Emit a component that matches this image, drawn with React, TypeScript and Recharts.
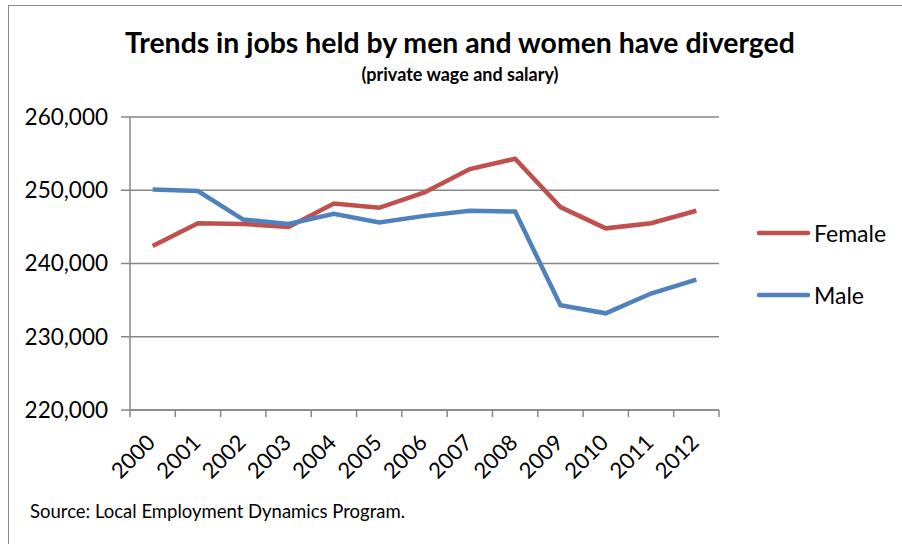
import { LineChart, Line, XAxis, YAxis, CartesianGrid } from "recharts";

const years = ["2000", "2001", "2002", "2003", "2004", "2005", "2006", "2007", "2008", "2009", "2010", "2011", "2012"];
const female = [242400, 245500, 245400, 245000, 248200, 247600, 249700, 252900, 254300, 247700, 244800, 245500, 247200];
const male = [250100, 249900, 246000, 245400, 246800, 245600, 246500, 247200, 247100, 234300, 233200, 235900, 237800];
const yTicks = [220000, 230000, 240000, 250000, 260000];

const series = [
  { key: "female", name: "Female", color: "#C0504D" },
  { key: "male", name: "Male", color: "#4F81BD" },
];

const data = years.map((year, i) => ({ year, female: female[i], male: male[i] }));

const FONT = "Lato, 'Open Sans', sans-serif";
const GRID = "#878787";

// Excel-style category ticks: tick marks sit between categories, labels at 45°
function YearTick(props: any) {
  const { x, y, payload, index, visibleTicksCount, width } = props;
  const half = payload?.offset > 0 ? payload.offset : width / visibleTicksCount / 2;
  const ay = y - 9;
  return (
    <g>
      <line x1={x - half} y1={ay} x2={x - half} y2={ay + 7} stroke={GRID} strokeWidth={1.5} />
      {index === visibleTicksCount - 1 && (
        <line x1={x + half} y1={ay} x2={x + half} y2={ay + 7} stroke={GRID} strokeWidth={1.5} />
      )}
      <text x={x + 4} y={y + 25} transform={`rotate(-45, ${x + 4}, ${y + 25})`} textAnchor="end" fontSize={22} fontFamily={FONT} fill="#000">
        {payload.value}
      </text>
    </g>
  );
}

export default function App() {
  return (
    <div style={{ position: "absolute", left: 0, top: 0, width: 902, height: 544, background: "#fff", overflow: "hidden" }}>
      <div style={{ position: "absolute", left: 8, top: 5, width: 910, height: 560, border: "1.5px solid #8a8a8a" }} />
      <div style={{ position: "absolute", left: 0, top: 25, width: 920, textAlign: "center", fontFamily: FONT, fontWeight: 700, fontSize: 28.4 }}>
        Trends in jobs held by men and women have diverged
      </div>
      <div style={{ position: "absolute", left: 0, top: 63, width: 920, textAlign: "center", fontFamily: FONT, fontWeight: 700, fontSize: 18 }}>
        (private wage and salary)
      </div>
      <div style={{ position: "absolute", left: 0, top: 0 }}>
        <LineChart width={902} height={544} data={data} margin={{ top: 117, right: 183, left: 0, bottom: 0 }}>
          <CartesianGrid vertical={false} stroke={GRID} strokeWidth={1.5} />
          <XAxis
            dataKey="year"
            scale="band"
            interval={0}
            height={134}
            axisLine={{ stroke: GRID, strokeWidth: 1.5 }}
            tickLine={false}
            tickSize={7}
            tickMargin={2}
            tick={<YearTick />}
          />
          <YAxis
            domain={[220000, 260000]}
            ticks={yTicks}
            width={130}
            axisLine={{ stroke: GRID, strokeWidth: 1.5 }}
            tickLine={{ stroke: GRID, strokeWidth: 1.5 }}
            tickSize={9}
            tickMargin={13}
            tick={{ fontSize: 22.5, fontFamily: FONT, fill: "#000" }}
            tickFormatter={(v: number) => v.toLocaleString("en-US")}
          />
          {series.map((s) => (
            <Line key={s.key} dataKey={s.key} name={s.name} stroke={s.color} strokeWidth={4.5} dot={false} isAnimationActive={false} />
          ))}
        </LineChart>
      </div>
      <div style={{ position: "absolute", left: 756, top: 202, fontFamily: FONT }}>
        {series.map((s) => (
          <div key={s.key} style={{ display: "flex", alignItems: "center", height: 62 }}>
            <svg width={56} height={10}>
              <line x1={3} y1={5} x2={52} y2={5} stroke={s.color} strokeWidth={4.5} strokeLinecap="round" />
            </svg>
            <span style={{ fontSize: 23, marginLeft: 2 }}>{s.name}</span>
          </div>
        ))}
      </div>
      <div style={{ position: "absolute", left: 30, top: 500, fontFamily: FONT, fontSize: 18.5, color: "#000" }}>
        Source: Local Employment Dynamics Program.
      </div>
    </div>
  );
}
